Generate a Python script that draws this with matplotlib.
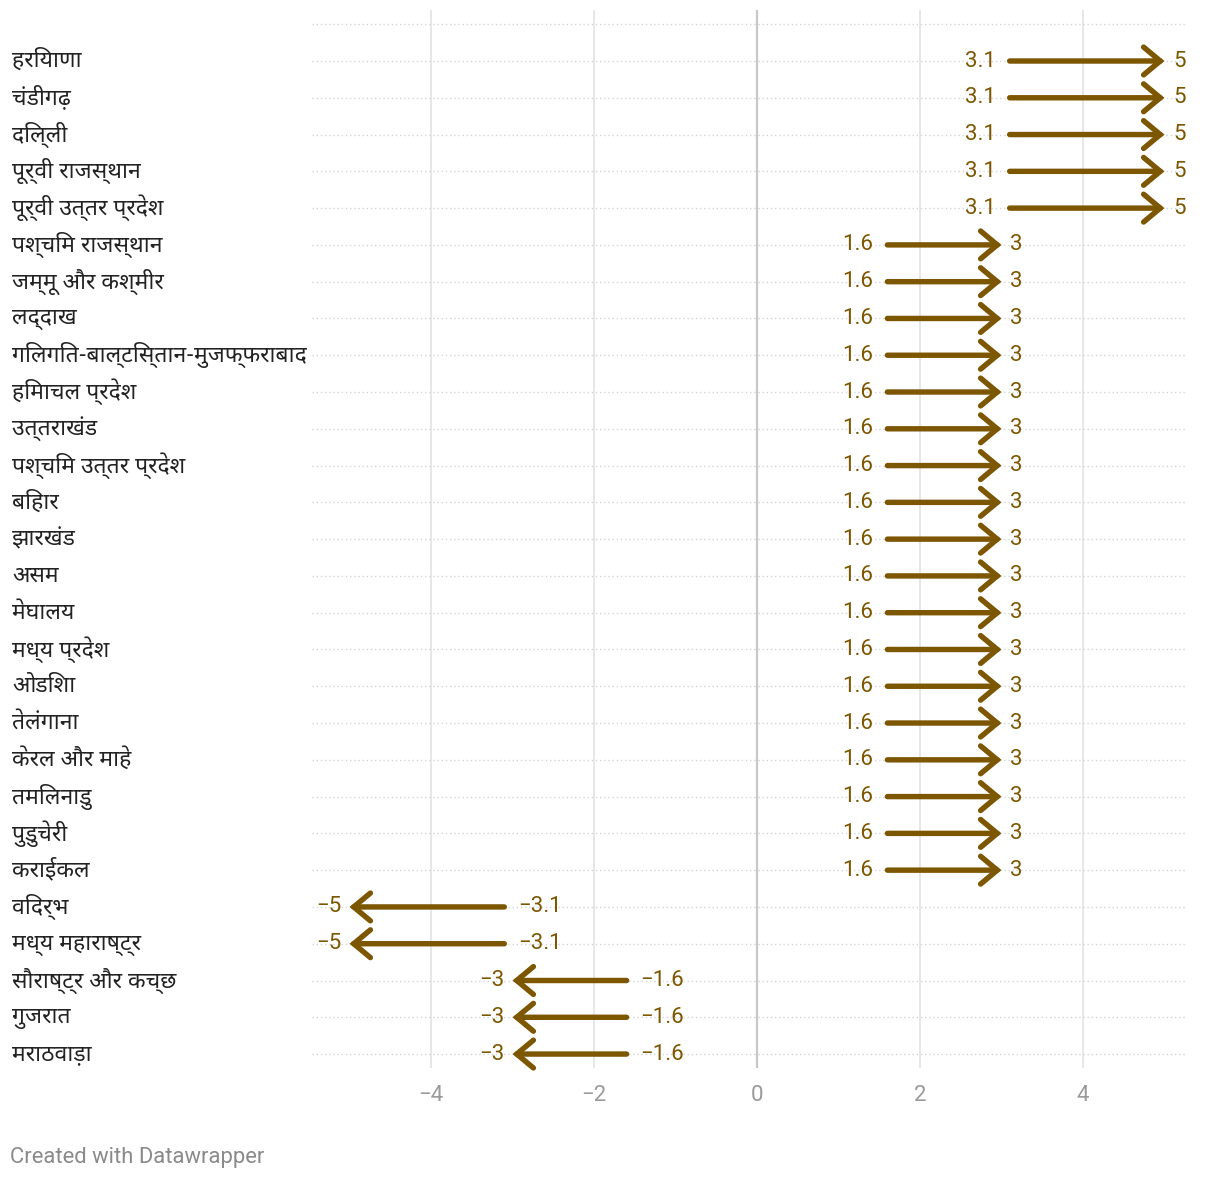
import matplotlib
matplotlib.use("Agg")
import matplotlib.pyplot as plt
from matplotlib import font_manager

# values
regions = [
    "हरियाणा", "चंडीगढ़", "दिल्ली", "पूर्वी राजस्थान", "पूर्वी उत्तर प्रदेश",
    "पश्चिम राजस्थान", "जम्मू और कश्मीर", "लद्दाख", "गिलगित-बाल्टिस्तान-मुजफ्फराबाद",
    "हिमाचल प्रदेश", "उत्तराखंड", "पश्चिम उत्तर प्रदेश", "बिहार", "झारखंड", "असम",
    "मेघालय", "मध्य प्रदेश", "ओडिशा", "तेलंगाना", "केरल और माहे", "तमिलनाडु",
    "पुडुचेरी", "कराईकल", "विदर्भ", "मध्य महाराष्ट्र", "सौराष्ट्र और कच्छ", "गुजरात",
    "मराठवाड़ा",
]
start = [3.1] * 5 + [1.6] * 18 + [-3.1] * 2 + [-1.6] * 3
end = [5] * 5 + [3] * 18 + [-5] * 2 + [-3] * 3
xticks = [-4, -2, 0, 2, 4]

color = "#7d5600"
grey_text = "#9a9a9a"


def devanagari_font():
    paths = font_manager.findSystemFonts()
    for want in ["NotoSansDevanagari-Regular", "NotoSansDevanagari[", "Hind-Regular",
                 "Mukta-Regular", "FreeSans.ttf"]:
        for p in sorted(paths):
            if want in p:
                return font_manager.FontProperties(fname=p).get_name()
    return "DejaVu Sans"


label_family = [devanagari_font(), "DejaVu Sans"]
plt.rcParams["font.family"] = ["Roboto", "DejaVu Sans"]

W, H = 1220, 1180
fig = plt.figure(figsize=(W / 100, H / 100), dpi=100)
ax_left, ax_right = 312 / W, 1186 / W
ax_top, ax_bottom = 10 / H, 1068 / H
ax = fig.add_axes([ax_left, 1 - ax_bottom, ax_right - ax_left, ax_bottom - ax_top])

px_per_unit = 81.5
x0_px = 757
ax.set_xlim((312 - x0_px) / px_per_unit, (1186 - x0_px) / px_per_unit)
row_px = 36.78
ax.set_ylim((1068 - 61) / row_px, (10 - 61) / row_px)

for s in ax.spines.values():
    s.set_visible(False)
ax.set_yticks([])
ax.set_xticks(xticks)
ax.set_xticklabels([str(t).replace("-", "\u2212") for t in xticks])
ax.tick_params(axis="x", length=0, pad=12, labelsize=16, labelcolor=grey_text)

for t in xticks:
    ax.axvline(t, color="#c8c8c8" if t == 0 else "#e3e3e3", lw=1.6 if t == 0 else 1.2, zorder=0)

for i in range(-1, len(regions)):
    ax.axhline(i, color="#d4d4d4", lw=1, ls=(0, (1, 2)), zorder=0)


def fmt(v):
    return f"{v:g}".replace("-", "\u2212")


for i, (name, a, b) in enumerate(zip(regions, start, end)):
    ax.annotate("", xy=(b, i), xytext=(a, i),
                arrowprops=dict(arrowstyle="->,head_length=0.6,head_width=0.5",
                                color=color, lw=3.9, shrinkA=0, shrinkB=0,
                                capstyle="round", joinstyle="miter", mutation_scale=20))
    sign = 1 if b > a else -1
    ax.annotate(fmt(a), (a, i), xytext=(-10 * sign, 0), textcoords="offset points",
                ha="right" if sign > 0 else "left", va="center", color=color, fontsize=16)
    ax.annotate(fmt(b), (b, i), xytext=(6 * sign, 0), textcoords="offset points",
                ha="left" if sign > 0 else "right", va="center", color=color, fontsize=16)
    fig.text(12 / W, 1 - (61 + row_px * i) / H, name, ha="left", va="center",
             fontsize=16.5, color="#222222", family=label_family)

fig.text(10 / W, 1 - 1157 / H, "Created with Datawrapper", ha="left", va="center",
         fontsize=15.8, color="#8a8a8a")

fig.savefig("out.png", dpi=100, facecolor="white")
